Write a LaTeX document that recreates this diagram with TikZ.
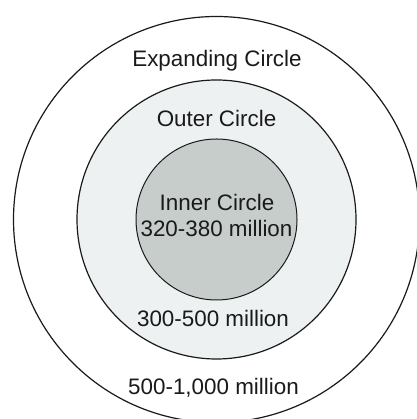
\documentclass[tikz,border=0pt]{standalone}
\usepackage{fontspec}
\setmainfont{Liberation Sans}
\usetikzlibrary{positioning}
\definecolor{outerfill}{HTML}{EEF1F2}
\definecolor{innerfill}{HTML}{C6CDCB}
\definecolor{inkdark}{HTML}{1A1A1A}

\begin{document}
\begin{tikzpicture}[
  x=1pt, y=1pt,
  font=\fontsize{22.4}{25.5}\selectfont,
  ring/.style  = {circle, draw=inkdark, line width=1.2pt, inner sep=0pt},
  lbl/.style   = {anchor=base, inner sep=0pt, text=inkdark, align=center},
]
\useasboundingbox (0,0) rectangle (416,419);
\coordinate (ctr) at (216.5,199.5);

% ---- the three rings
\node[ring, fill=white, minimum size=406pt]     (expanding) at (ctr) {};
\node[ring, fill=outerfill, minimum size=279pt] (outer)     at (ctr) {};
\node[ring, fill=innerfill, minimum size=161pt, line width=1pt] (inner) at (ctr) {};

% ---- the labels
\node[lbl] (expname) at (217,352.3)   {Expanding Circle};
\node[lbl] (outname) at (216.5,292.3) {Outer Circle};
\node[lbl] (inname)  at (217,208)     {Inner Circle};
\node[lbl] (innum)   at (216.5,182.3) {320-380 million};
\node[lbl] (outnum)  at (213,92.3)    {300-500 million};
\node[lbl] (expnum)  at (213.5,24)    {500-1,000 million};

\end{tikzpicture}
\end{document}
